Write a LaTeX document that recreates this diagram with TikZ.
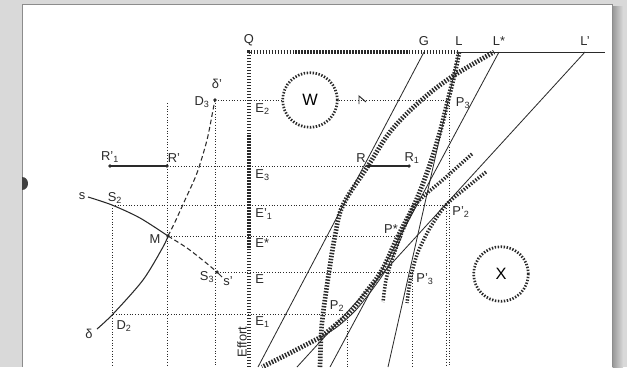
\documentclass[tikz,border=0pt]{standalone}
\usepackage{fontspec}
\setmainfont{Liberation Sans}
\usetikzlibrary{positioning}

\definecolor{ink}{HTML}{2A2A2A}
\definecolor{backdrop}{HTML}{D9D9D9}

\begin{document}
\begin{tikzpicture}[
    x=0.03cm, y=-0.03cm,
    font=\fontsize{11}{13}\selectfont,
    lbl/.style={inner sep=1pt, text=ink},
    ray/.style={draw=ink, line width=0.7pt},
    guide/.style={draw=ink, line width=0.75pt, dash pattern=on 0.75pt off 1.6pt},
    curveline/.style={draw=ink, line width=0.9pt},
    dashcurve/.style={draw=ink, line width=0.9pt, dash pattern=on 4pt off 2.4pt},
    ruled/.style={draw=ink, line width=4pt, dash pattern=on 1.25pt off 1.3pt},
    ruledthin/.style={draw=ink, line width=3pt, dash pattern=on 1.2pt off 1.35pt},
    ring/.style={circle, draw=ink, line width=2.3pt, dash pattern=on 1.2pt off 1.35pt, minimum size=1.64cm, inner sep=0pt, font=\fontsize{14}{16}\selectfont},
    pt/.style={circle, fill=ink, inner sep=0pt, minimum size=3pt}
]

% Page
\useasboundingbox (0,0) rectangle (627,367);
\fill[backdrop] (0,0) rectangle (627,367);
\shade[left color=black!40, right color=backdrop] (612.7,7) rectangle (623,367);
\fill[white] (22,4.5) rectangle (612.7,367);
\draw[black!45, line width=0.6pt] (22,367) -- (22,4.5) -- (612.7,4.5) -- (612.7,367);
\fill[black!75] (22,177) .. controls (30,177) and (30,190) .. (22,190) -- cycle;

% Points
\coordinate (Q) at (249,52);
\coordinate (G) at (424,52);
\coordinate (L) at (459,52);
\coordinate (Lstar) at (499,52);
\coordinate (Lprime) at (585,52);
\coordinate (axisend) at (605,52);
\coordinate (origin) at (249,367);
\coordinate (G0) at (258,367);
\coordinate (L0) at (388,367);
\coordinate (Lstar0) at (330,367);
\coordinate (Lprime0) at (297,367);

\coordinate (D3) at (215,100);
\coordinate (P3) at (449,100);
\coordinate (Rtop) at (167,103);
\coordinate (R1p) at (110,166);
\coordinate (Rp) at (167,166);
\coordinate (R) at (368,166);
\coordinate (R1) at (409,166);
\coordinate (S2) at (112,205);
\coordinate (P2p) at (446,205);
\coordinate (M) at (168,236);
\coordinate (Pstar) at (398,236);
\coordinate (S3) at (217,272);
\coordinate (P3p) at (412,272);
\coordinate (D2) at (113,314);
\coordinate (P2) at (347,314);
\coordinate (J) at (321,337);

% Circles
\node[ring] (W) at (310,100) {W};
\node[ring] (X) at (501,274) {X};

% Guides
\draw[guide] (D3) -- (W);
\draw[guide] (W) -- (P3);
\draw[guide] (Rp) -- (R);
\draw[guide] (S2) -- (P2p);
\draw[guide] (M) -- (Pstar);
\draw[guide] (S3) -- (P3p);
\draw[guide] (D2) -- (P2);
\draw[guide] (Rtop) -- (Rtop |- origin);
\draw[guide] (D3) -- (D3 |- origin);
\draw[guide] (S2) -- (S2 |- origin);
\draw[guide] (P2) -- (P2 |- origin);
\draw[guide] (P3p) -- (P3p |- origin);
\draw[guide] (P2p) -- (P2p |- origin);
\draw[guide] (P3) -- (P3 |- origin);
\draw[ink, line width=0.8pt] (359,104) -- (359,96) -- (366,102);

% Rays
\draw[ray] (G) -- (G0);
\draw[ray] (L) -- (L0);
\draw[ray] (Lstar) -- (Lstar0);
\draw[ray] (Lprime) -- (Lprime0);
\draw[ray] (L) -- (axisend);
\draw[ray] plot[smooth] coordinates {(402,236) (387,268) (372,290) (355,311) (337,327) (J)};
\draw[curveline] (R1p) -- (Rp);
\draw[curveline] (R) -- (R1);

% s and delta curves
\draw[curveline] plot[smooth] coordinates {(88,197) (S2) (140,218) (M)};
\draw[dashcurve] plot[smooth] coordinates {(M) (187,248) (205,262) (S3)};
\draw[curveline] (S3) -- (222,277);
\draw[curveline] plot[smooth] coordinates {(97,329) (D2) (143,280) (163,247) (M)};
\draw[dashcurve] plot[smooth] coordinates {(M) (175,222) (185,200) (197,173) (207,140) (213,110) (D3)};

% Hatched curves
\draw[ruled, line width=3.8pt] (origin) -- (Q) -- (L);
\draw[ruled] plot[smooth, tension=0.6] coordinates {(320,367) (J) (323,314) (329,272) (335,236) (343,205) (R) (390,132) (417,104) (450,78) (494,52)};
\draw[ruled] plot[smooth, tension=0.6] coordinates {(L) (455,72) (448,100) (441,128) (433,155) (425,178) (414,205) (Pstar) (382,270) (366,292) (350,312) (J)};
\draw[ruled] (J) -- (292,352) -- (262,367);
\draw[ruledthin] plot[smooth] coordinates {(472,154) (445,178) (417,203) (403,230) (392,260) (386,280) (383,302)};
\draw[ruledthin] plot[smooth] coordinates {(486,172) (466,188) (P2p) (430,228) (418,252) (P3p) (409,288) (407,303)};

% Dots
\foreach \p in {R1p, Rp, R, R1, D3, M, S3, Pstar}
    \node[pt] at (\p) {};

% Labels
\node[lbl, above=4pt of Q] (labQ) {Q};
\node[lbl, above=4pt of G] (labG) {G};
\node[lbl, above=4pt of L] (labL) {L};
\node[lbl, above=4pt of Lstar] (labLstar) {L*};
\node[lbl, above=4pt of Lprime] (labLprime) {L'};
\node[lbl] (labdeltap) at (217,84) {δ'};
\node[lbl] (labD3) at (202,102) {D\textsubscript{3}};
\node[lbl, anchor=west] (labE2) at (254,109) {E\textsubscript{2}};
\node[lbl] (labP3) at (463,103) {P\textsubscript{3}};
\node[lbl] (labR1p) at (110,157) {R'\textsubscript{1}};
\node[lbl] (labRp) at (174,158) {R'};
\node[lbl, anchor=west] (labE3) at (254,175) {E\textsubscript{3}};
\node[lbl] (labR) at (361,158) {R};
\node[lbl] (labR1) at (412,158) {R\textsubscript{1}};
\node[lbl] (labs) at (82,196) {s};
\node[lbl] (labS2) at (115,198) {S\textsubscript{2}};
\node[lbl, anchor=west] (labE1p) at (254,214) {E'\textsubscript{1}};
\node[lbl] (labP2p) at (461,212) {P'\textsubscript{2}};
\node[lbl] (labM) at (155,239) {M};
\node[lbl, anchor=west] (labEstar) at (254,243) {E*};
\node[lbl] (labPstar) at (391,229) {P*};
\node[lbl] (labS3) at (207,277) {S\textsubscript{3}};
\node[lbl] (labsp) at (228,281) {s'};
\node[lbl, anchor=west] (labE) at (254,279) {E};
\node[lbl] (labP3p) at (425,279) {P'\textsubscript{3}};
\node[lbl] (labP2) at (337,306) {P\textsubscript{2}};
\node[lbl, anchor=west] (labE1) at (254,322) {E\textsubscript{1}};
\node[lbl] (labD2) at (124,326) {D\textsubscript{2}};
\node[lbl] (labdelta) at (89,334) {δ};
\node[lbl, rotate=90] (labEffort) at (242,342) {Effort};

\end{tikzpicture}
\end{document}
